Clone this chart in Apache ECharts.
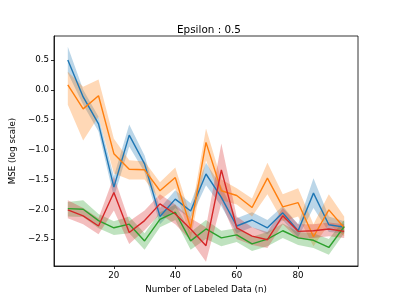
<!DOCTYPE html>
<html><head><meta charset="utf-8">
<script src="https://cdn.jsdelivr.net/npm/echarts@6/dist/echarts.min.js"></script>
<style>html,body{margin:0;padding:0;background:#fff}#c{width:399px;height:299px}</style>
</head><body><div id="c"></div>
<script>
const nLabeled = [5,10,15,20,25,30,35,40,45,50,55,60,65,70,75,80,85,90,95];
const blueMean = [0.50,-0.12,-0.57,-1.63,-0.76,-1.24,-2.12,-1.83,-2.03,-1.41,-1.80,-2.28,-2.18,-2.31,-2.06,-2.36,-1.73,-2.26,-2.30];
const blueHi   = [0.72,0.00,-0.45,-1.45,-0.58,-1.10,-1.98,-1.68,-1.90,-1.22,-1.62,-2.15,-2.05,-2.18,-1.95,-2.25,-1.48,-2.12,-2.20];
const blueLo   = [0.28,-0.25,-0.70,-1.80,-0.95,-1.38,-2.25,-1.98,-2.15,-1.60,-1.95,-2.40,-2.30,-2.42,-2.18,-2.47,-1.98,-2.38,-2.40];
const orangeMean = [0.08,-0.32,-0.10,-1.07,-1.33,-1.34,-1.69,-1.47,-2.31,-0.88,-1.69,-1.77,-1.97,-1.48,-1.96,-1.89,-2.46,-2.01,-2.31];
const orangeHi   = [0.30,0.05,0.17,-0.82,-1.18,-1.20,-1.55,-1.30,-2.12,-0.65,-1.50,-1.65,-1.82,-1.22,-1.75,-1.65,-2.25,-1.75,-2.12];
const orangeLo   = [-0.25,-0.85,-0.45,-1.40,-1.50,-1.50,-1.85,-1.65,-2.50,-1.18,-1.85,-1.92,-2.12,-1.75,-2.20,-2.12,-2.62,-2.25,-2.45];
const greenMean = [-1.99,-2.00,-2.19,-2.31,-2.25,-2.53,-2.17,-2.05,-2.53,-2.33,-2.48,-2.43,-2.58,-2.50,-2.36,-2.48,-2.52,-2.64,-2.29];
const greenHi   = [-1.88,-1.85,-2.08,-2.20,-2.12,-2.40,-2.05,-1.92,-2.38,-2.18,-2.36,-2.32,-2.46,-2.38,-2.24,-2.38,-2.40,-2.50,-2.18];
const greenLo   = [-2.12,-2.13,-2.32,-2.43,-2.40,-2.68,-2.30,-2.18,-2.68,-2.50,-2.62,-2.55,-2.70,-2.62,-2.48,-2.60,-2.65,-2.76,-2.40];
const redMean = [-2.01,-2.11,-2.28,-1.72,-2.39,-2.19,-1.91,-2.08,-2.33,-2.61,-1.34,-2.31,-2.45,-2.51,-2.11,-2.37,-2.36,-2.33,-2.37];
const redHi   = [-1.85,-1.98,-2.15,-1.45,-2.20,-2.02,-1.75,-1.92,-2.15,-2.30,-0.90,-2.12,-2.30,-2.38,-1.98,-2.25,-2.25,-2.22,-2.25];
const redLo   = [-2.15,-2.25,-2.42,-2.02,-2.58,-2.35,-2.08,-2.25,-2.52,-2.88,-1.90,-2.50,-2.60,-2.65,-2.25,-2.50,-2.48,-2.45,-2.48];
const xTicks = [20,40,60,80];
const yTicks = [-2.5,-2.0,-1.5,-1.0,-0.5,0.0,0.5];
const titleText = 'Epsilon : 0.5';
const xName = 'Number of Labeled Data (n)';
const yName = 'MSE (log scale)';

const FONT = 'DejaVu Sans';
const groups = [
  {c:'#1f77b4', m:blueMean, lo:blueLo, hi:blueHi},
  {c:'#ff7f0e', m:orangeMean, lo:orangeLo, hi:orangeHi},
  {c:'#2ca02c', m:greenMean, lo:greenLo, hi:greenHi},
  {c:'#d62728', m:redMean, lo:redLo, hi:redHi}
];
const series = [];
groups.forEach(g => {
  series.push({
    type:'custom', silent:true,
    data: nLabeled.map((x,i)=>[x, g.lo[i], g.hi[i]]),
    encode:{x:0, y:[1,2]},
    renderItem:function(params, api){
      if (params.dataIndexInside !== 0) return null;
      const n = params.dataInsideLength;
      const pts = [];
      for (let i=0;i<n;i++) pts.push(api.coord([api.value(0,i), api.value(2,i)]));
      for (let i=n-1;i>=0;i--) pts.push(api.coord([api.value(0,i), api.value(1,i)]));
      return {type:'polygon', shape:{points:pts}, style:{fill:g.c, opacity:0.3}};
    }
  });
  series.push({
    type:'line', symbol:'none', silent:true,
    data: nLabeled.map((x,i)=>[x, g.m[i]]),
    lineStyle:{color:g.c, width:1.4}
  });
});
const fmt = v => String(v.toFixed(1)).replace('-', '\u2212');
const chart = echarts.init(document.getElementById('c'), null, {renderer:'canvas'});
chart.setOption({
  animation:false,
  backgroundColor:'#fff',
  title:{text:titleText, left:204, top:20, textAlign:'center',
    textStyle:{fontFamily:FONT, fontSize:10.4, fontWeight:'normal', color:'#000'}},
  grid:{left:50, top:36, right:41, bottom:33, show:true, borderColor:'#000', borderWidth:0.8, backgroundColor:'transparent'},
  xAxis:{type:'value', min:0.5, max:99.5, name:xName, nameLocation:'middle', nameGap:17,
    nameTextStyle:{fontFamily:FONT, fontSize:8.7, color:'#000'},
    axisLine:{show:true, onZero:false, lineStyle:{color:'#000', width:0.8}},
    axisTick:{show:true, length:3, lineStyle:{color:'#000', width:0.8}, customValues:xTicks},
    axisLabel:{fontFamily:FONT, fontSize:8.7, color:'#000', margin:5, customValues:xTicks, formatter:v=>String(v)},
    splitLine:{show:false}},
  yAxis:{type:'value', min:-2.95, max:0.90, name:yName, nameLocation:'middle', nameGap:32,
    nameTextStyle:{fontFamily:FONT, fontSize:8.7, color:'#000'},
    axisLine:{show:true, onZero:false, lineStyle:{color:'#000', width:0.8}},
    axisTick:{show:true, length:3, lineStyle:{color:'#000', width:0.8}, customValues:yTicks},
    axisLabel:{fontFamily:FONT, fontSize:8.7, color:'#000', margin:5, customValues:yTicks, formatter:fmt},
    splitLine:{show:false}},
  series:series
});
</script></body></html>
